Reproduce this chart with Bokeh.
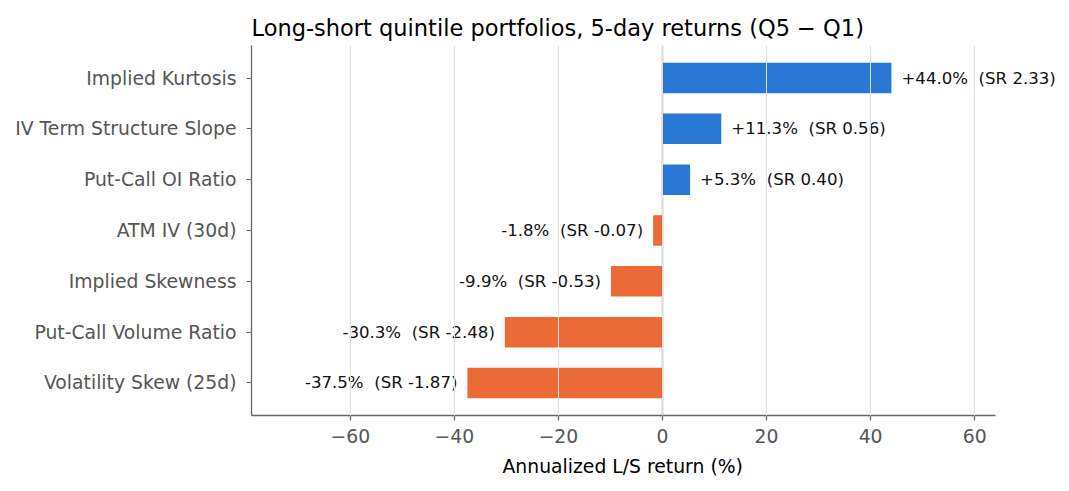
from bokeh.plotting import figure
from bokeh.models import Range1d, FixedTicker, Span, ColumnDataSource, Label, Title
from bokeh.embed import file_html
from bokeh.resources import INLINE

categories = ["Implied Kurtosis", "IV Term Structure Slope", "Put-Call OI Ratio",
              "ATM IV (30d)", "Implied Skewness", "Put-Call Volume Ratio",
              "Volatility Skew (25d)"]
returns = [44.0, 11.3, 5.3, -1.8, -9.9, -30.3, -37.5]
sharpe = [2.33, 0.56, 0.40, -0.07, -0.53, -2.48, -1.87]
x_ticks = [-60, -40, -20, 0, 20, 40, 60]
x_axis_bounds = (-79, 64)

POS = "#2a78d6"
NEG = "#ec6a35"
FONT = "DejaVu Sans"

ys = list(range(len(categories)))
colors = [POS if r >= 0 else NEG for r in returns]
labels = [f"{r:+.1f}%\u00a0 (SR {s:.2f})" for r, s in zip(returns, sharpe)]

# frame extends past the axis end so the value labels are not clipped
p = figure(width=1060, height=485, output_backend="svg", toolbar_location=None,
           x_range=Range1d(-79, 76.5), y_range=Range1d(6.64, -0.64),
           min_border_left=251, min_border_right=0, min_border_top=45,
           min_border_bottom=70)

p.title.text = "Long-short quintile portfolios, 5-day returns (Q5 \u2212 Q1)"
p.title.text_font = FONT
p.title.text_font_size = "22.5px"
p.title.text_font_style = "normal"
p.title.text_color = "#000000"
p.title.align = "left"
p.title.offset = 0

src = ColumnDataSource(dict(y=ys, r=returns, c=colors))
p.hbar(y="y", left=0, right="r", height=0.6, fill_color="c", line_color=None, source=src)

for y, r, t in zip(ys, returns, labels):
    p.add_layout(Label(x=r, y=y, text=t, x_offset=10 if r >= 0 else -10,
                       text_align="left" if r >= 0 else "right",
                       text_baseline="middle", text_font=FONT,
                       text_font_size="16.6px", text_color="#111111"))

p.add_layout(Span(location=0, dimension="height", line_color="#666666", line_width=1.3))

p.outline_line_color = None
p.ygrid.grid_line_color = None
p.xgrid.ticker = FixedTicker(ticks=x_ticks)
p.xgrid.grid_line_color = "#e0e0e0"
p.xgrid.grid_line_width = 1
p.xgrid.level = "overlay"

p.xaxis.ticker = FixedTicker(ticks=x_ticks)
p.xaxis.bounds = x_axis_bounds
p.xaxis.major_label_overrides = {t: (f"\u2212{abs(t)}" if t < 0 else str(t)) for t in x_ticks}
p.yaxis.ticker = FixedTicker(ticks=ys)
p.yaxis.major_label_overrides = {y: c for y, c in zip(ys, categories)}

for ax in (p.xaxis[0], p.yaxis[0]):
    ax.axis_line_color = "#666666"
    ax.axis_line_width = 1.3
    ax.major_tick_line_color = "#666666"
    ax.major_tick_line_width = 1.2
    ax.major_tick_out = 5
    ax.major_tick_in = 0
    ax.minor_tick_line_color = None
    ax.major_label_text_font = FONT
    ax.major_label_text_font_size = "18.8px"
    ax.major_label_text_color = "#555555"

p.xaxis.major_label_standoff = 8
p.yaxis.major_label_standoff = 10

# x-axis title, centred under the axis extent (not the wider frame)
xlabel = Title(text="Annualized L/S return (%)", align="left", offset=251,
               text_font=FONT, text_font_size="18.8px", text_font_style="normal",
               text_color="#000000", standoff=16)
p.add_layout(xlabel, "below")

open("out.html", "w").write(file_html(p, INLINE))
